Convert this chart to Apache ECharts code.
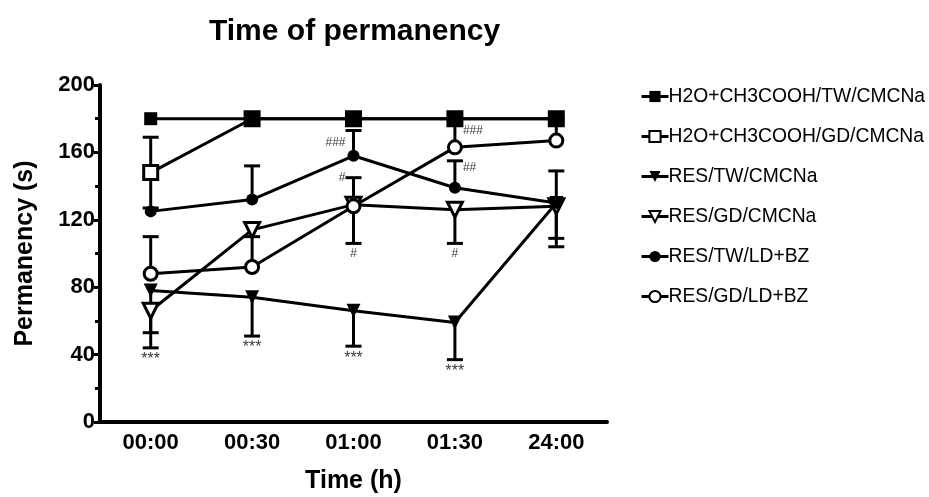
<!DOCTYPE html>
<html>
<head>
<meta charset="utf-8">
<script src="https://cdn.jsdelivr.net/npm/echarts@6/dist/echarts.min.js"></script>
<style>html,body{margin:0;padding:0;background:#fff}#c{width:929px;height:497px}</style>
</head>
<body>
<div id="c"></div>
<script>
// ---- data ----
const categories = ['00:00', '00:30', '01:00', '01:30', '24:00'];
const seriesNames = ['H2O+CH3COOH/TW/CMCNa', 'H2O+CH3COOH/GD/CMCNa', 'RES/TW/CMCNa', 'RES/GD/CMCNa', 'RES/TW/LD+BZ', 'RES/GD/LD+BZ'];
const h2oTW   = [180, 180, 180, 180, 180];
const h2oGD   = [148, 180, 180, 180, 180];
const resTWcm = [78, 74, 66, 59, 130];
const resGDcm = [66, 114, 129, 126, 128];
const resTWld = [125, 132, 158, 139, 130];
const resGDld = [88, 92, 128, 163, 167];
// error bars (up, down), 0 = not shown
const h2oTWUp   = [0, 0, 0, 0, 0];
const h2oTWDown = [0, 0, 0, 0, 0];
const h2oGDUp   = [21, 0, 0, 0, 0];
const h2oGDDown = [21, 0, 0, 0, 0];
const resTWcmUp   = [0, 0, 0, 0, 0];
const resTWcmDown = [34, 23, 21, 22, 26];
const resGDcmUp   = [0, 0, 0, 0, 0];
const resGDcmDown = [13, 0, 23, 20, 19];
const resTWldUp   = [0, 20, 15, 16, 19];
const resTWldDown = [0, 0, 0, 0, 0];
const resGDldUp   = [22, 18, 17, 17, 13];
const resGDldDown = [0, 0, 0, 0, 0];
// significance annotations
const annoText  = ['***', '***', '***', '***', '#', '###', '#', '#', '##', '###'];
const annoCat   = [0, 1, 2, 3, 2, 2, 2, 3, 3, 3];
const annoValue = [44, 51, 45, 37, 145, 166, 106, 106, 151, 173];
const annoSide  = ['bottom', 'bottom', 'bottom', 'bottom', 'left', 'left', 'bottom', 'bottom', 'right', 'right'];
const yTicks = [0, 40, 80, 120, 160, 200];

// ---- build ----
const values = [h2oTW, h2oGD, resTWcm, resGDcm, resTWld, resGDld];
const ups = [h2oTWUp, h2oGDUp, resTWcmUp, resGDcmUp, resTWldUp, resGDldUp];
const downs = [h2oTWDown, h2oGDDown, resTWcmDown, resGDcmDown, resTWldDown, resGDldDown];
const styles = [
  {symbol: 'rect', size: 13, fill: '#000', rot: 0, z: 5},
  {symbol: 'rect', size: 14, fill: '#fff', rot: 0, z: 4},
  {symbol: 'triangle', size: 14, fill: '#000', rot: 180, z: 3},
  {symbol: 'triangle', size: 15, fill: '#fff', rot: 180, z: 3},
  {symbol: 'circle', size: 12, fill: '#000', rot: 0, z: 3},
  {symbol: 'circle', size: 13, fill: '#fff', rot: 0, z: 3}
];
const FONT = 'Liberation Sans, Arial, sans-serif';

const series = [];
values.forEach((v, i) => {
  const st = styles[i];
  series.push({
    name: seriesNames[i], type: 'line', data: v,
    symbol: st.symbol, symbolSize: st.size, symbolRotate: st.rot,
    showAllSymbol: true, z: st.z + 10,
    lineStyle: {color: '#000', width: 3},
    itemStyle: {color: st.fill, borderColor: '#000', borderWidth: st.fill === '#fff' ? 3 : 0, opacity: 1},
    emphasis: {disabled: true}, animation: false
  });
  const ed = v.map((val, j) => [j, val, ups[i][j], downs[i][j]]);
  series.push({
    type: 'custom', data: ed, z: 2, silent: true, animation: false,
    renderItem: function (params, api) {
      const x = api.value(0), y = api.value(1), up = api.value(2), dn = api.value(3);
      const c = api.coord([x, y]);
      const children = [];
      const cap = 8;
      if (up > 0) {
        const t = api.coord([x, y + up]);
        children.push({type: 'line', shape: {x1: c[0], y1: c[1], x2: t[0], y2: t[1]}, style: {stroke: '#000', lineWidth: 3}});
        children.push({type: 'line', shape: {x1: t[0] - cap, y1: t[1], x2: t[0] + cap, y2: t[1]}, style: {stroke: '#000', lineWidth: 3}});
      }
      if (dn > 0) {
        const b = api.coord([x, y - dn]);
        children.push({type: 'line', shape: {x1: c[0], y1: c[1], x2: b[0], y2: b[1]}, style: {stroke: '#000', lineWidth: 3}});
        children.push({type: 'line', shape: {x1: b[0] - cap, y1: b[1], x2: b[0] + cap, y2: b[1]}, style: {stroke: '#000', lineWidth: 3}});
      }
      return {type: 'group', children: children};
    }
  });
});

series.push({
  type: 'scatter', symbolSize: 0, silent: true, animation: false, z: 30,
  data: annoText.map((t, i) => ({
    value: [annoCat[i], annoValue[i]],
    label: {show: true, formatter: t, position: annoSide[i], distance: annoSide[i] === 'bottom' ? 4 : 8,
      fontFamily: FONT, fontSize: annoText[i].indexOf('*') >= 0 ? 16 : 12, color: '#000'}
  }))
});

const chart = echarts.init(document.getElementById('c'), null, {renderer: 'canvas'});
chart.setOption({
  animation: false,
  backgroundColor: '#fff',
  title: {
    text: 'Time of permanency', left: 204, top: 12,
    textStyle: {fontFamily: FONT, fontWeight: 'bold', fontSize: 30, color: '#000'}
  },
  legend: {
    data: seriesNames, orient: 'vertical', left: 635, top: 82, itemGap: 21,
    itemWidth: 27, itemHeight: 14,
    lineStyle: {width: 3},
    textStyle: {fontFamily: FONT, fontSize: 19.3, color: '#000', padding: [0, 0, 0, -5]},
    selectedMode: false
  },
  grid: {left: 100, right: 322, top: 85, bottom: 75, containLabel: false, outerBoundsMode: 'none'},
  xAxis: {
    type: 'category', data: categories, boundaryGap: true,
    name: 'Time (h)', nameLocation: 'middle', nameGap: 47,
    nameTextStyle: {fontFamily: FONT, fontWeight: 'bold', fontSize: 25, color: '#000'},
    axisLine: {lineStyle: {color: '#000', width: 4}},
    axisTick: {alignWithLabel: true, length: 6, lineStyle: {width: 3, color: '#000'}},
    axisLabel: {fontFamily: FONT, fontWeight: 'bold', fontSize: 22, color: '#000', margin: 10}
  },
  yAxis: {
    type: 'value', min: yTicks[0], max: yTicks[yTicks.length - 1], interval: yTicks[1] - yTicks[0],
    name: 'Permanency (s)', nameLocation: 'middle', nameGap: 62,
    nameTextStyle: {fontFamily: FONT, fontWeight: 'bold', fontSize: 25, color: '#000'},
    axisLine: {show: true, lineStyle: {color: '#000', width: 4}},
    axisTick: {show: true, length: 6, lineStyle: {width: 3, color: '#000'}},
    minorTick: {show: true, splitNumber: 2, length: 5, lineStyle: {width: 3, color: '#000'}},
    splitLine: {show: false},
    axisLabel: {fontFamily: FONT, fontWeight: 'bold', fontSize: 22, color: '#000', margin: 5}
  },
  series: series
});
</script>
</body>
</html>
